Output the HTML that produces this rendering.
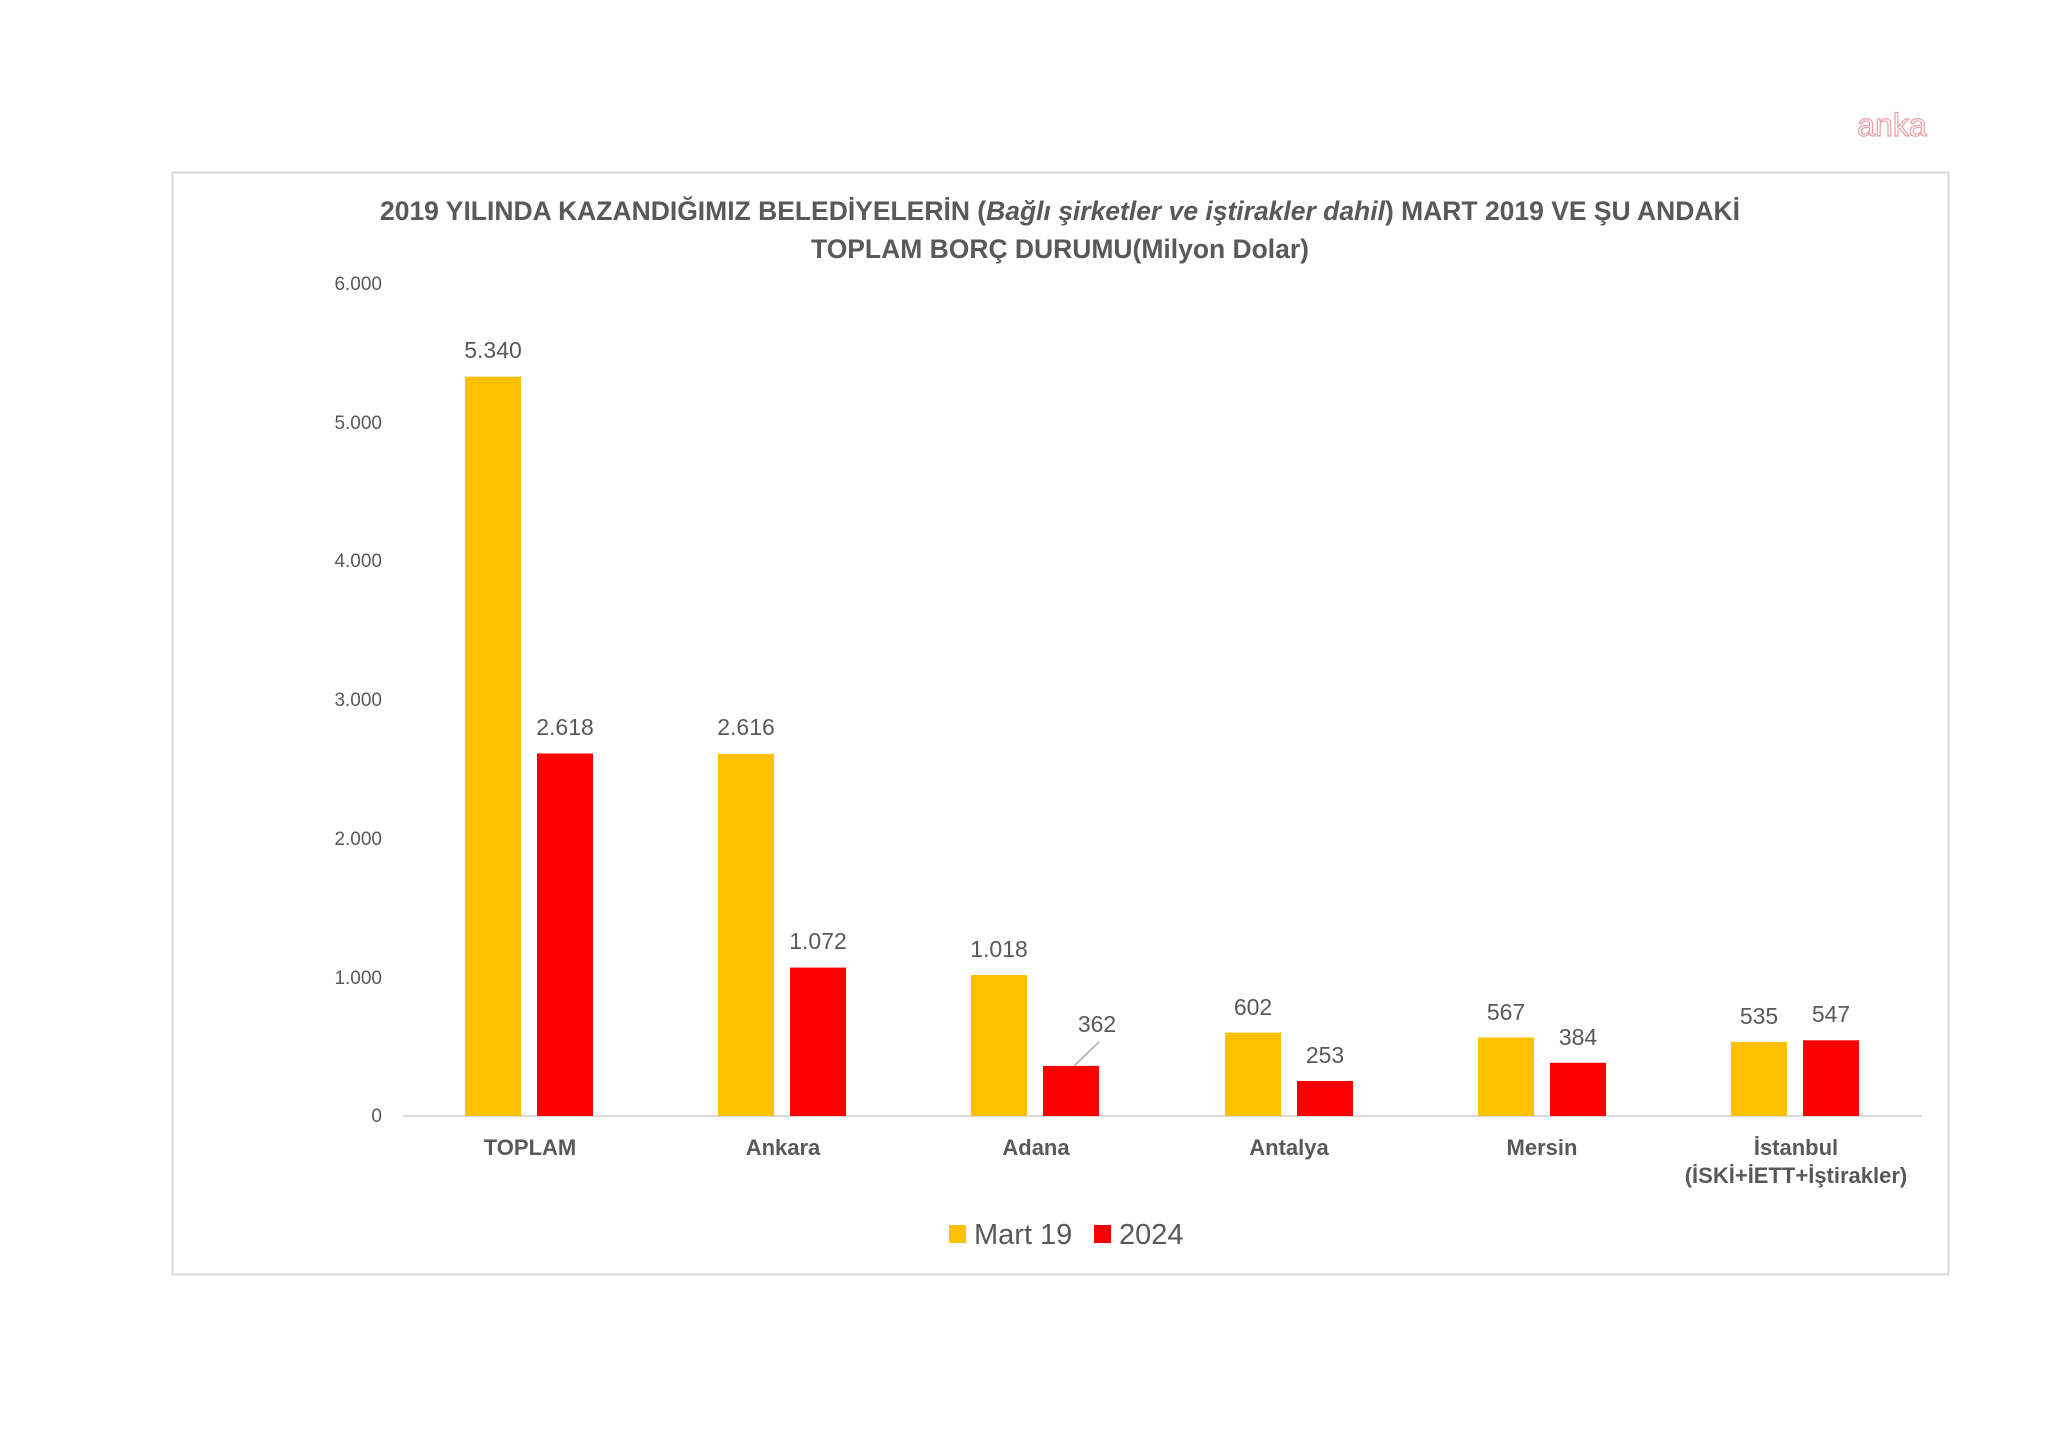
<!DOCTYPE html>
<html><head><meta charset="utf-8"><style>
html,body{margin:0;padding:0;background:#fff;}
svg{display:block;}
text{font-family:"Liberation Sans Narrow","Liberation Sans",sans-serif;fill:#595959;}
</style></head><body>
<svg width="2048" height="1448" viewBox="0 0 2048 1448" xmlns="http://www.w3.org/2000/svg">
<rect x="0" y="0" width="2048" height="1448" fill="#fff"/>
<text x="1892" y="136" text-anchor="middle" font-size="32" style="fill:none;stroke:#e8a0aa;stroke-width:1.2;font-family:'Liberation Sans',sans-serif">anka</text>
<rect x="172.5" y="172.5" width="1776" height="1102" fill="#fff" stroke="#d9d9d9" stroke-width="2"/>
<text x="1060" y="220" text-anchor="middle" font-size="27" font-weight="bold" textLength="1360" lengthAdjust="spacingAndGlyphs">2019  YILINDA KAZANDIĞIMIZ BELEDİYELERİN (<tspan font-style="italic">Bağlı şirketler ve iştirakler dahil</tspan>) MART 2019  VE ŞU ANDAKİ</text>
<text x="1060" y="258" text-anchor="middle" font-size="27" font-weight="bold" textLength="498" lengthAdjust="spacingAndGlyphs">TOPLAM BORÇ DURUMU(Milyon Dolar)</text>
<g font-size="19" text-anchor="end">
<text x="382" y="290">6.000</text>
<text x="382" y="429">5.000</text>
<text x="382" y="567">4.000</text>
<text x="382" y="706">3.000</text>
<text x="382" y="845">2.000</text>
<text x="382" y="984">1.000</text>
<text x="382" y="1122">0</text>
</g>
<line x1="403" y1="1116" x2="1922" y2="1116" stroke="#d9d9d9" stroke-width="2"/>
<g>
<rect x="465" y="376.7" width="56" height="739.3" fill="#FFC000"/>
<rect x="537" y="753.5" width="56" height="362.5" fill="#FF0000"/>
<rect x="718" y="753.8" width="56" height="362.2" fill="#FFC000"/>
<rect x="790" y="967.6" width="56" height="148.4" fill="#FF0000"/>
<rect x="971" y="975" width="56" height="141" fill="#FFC000"/>
<rect x="1043" y="1065.9" width="56" height="50.1" fill="#FF0000"/>
<rect x="1225" y="1032.6" width="56" height="83.4" fill="#FFC000"/>
<rect x="1297" y="1081" width="56" height="35" fill="#FF0000"/>
<rect x="1478" y="1037.5" width="56" height="78.5" fill="#FFC000"/>
<rect x="1550" y="1062.8" width="56" height="53.2" fill="#FF0000"/>
<rect x="1731" y="1041.9" width="56" height="74.1" fill="#FFC000"/>
<rect x="1803" y="1040.3" width="56" height="75.7" fill="#FF0000"/>
</g>
<g font-size="23" text-anchor="middle" style="fill:#404040">
<text x="493" y="358">5.340</text>
<text x="565" y="735">2.618</text>
<text x="746" y="735">2.616</text>
<text x="818" y="949">1.072</text>
<text x="999" y="957">1.018</text>
<text x="1097" y="1032">362</text>
<text x="1253" y="1015">602</text>
<text x="1325" y="1063">253</text>
<text x="1506" y="1020">567</text>
<text x="1578" y="1045">384</text>
<text x="1759" y="1024">535</text>
<text x="1831" y="1022">547</text>
</g>
<line x1="1074" y1="1066" x2="1099" y2="1042" stroke="#a6a6a6" stroke-width="1.5"/>
<g font-size="22" font-weight="bold" text-anchor="middle">
<text x="530" y="1155">TOPLAM</text>
<text x="783" y="1155">Ankara</text>
<text x="1036" y="1155">Adana</text>
<text x="1289" y="1155">Antalya</text>
<text x="1542" y="1155">Mersin</text>
<text x="1796" y="1155">İstanbul</text>
<text x="1796" y="1183">(İSKİ+İETT+İştirakler)</text>
</g>
<rect x="949" y="1225" width="17" height="18" fill="#FFC000"/>
<text x="974" y="1244" font-size="29">Mart 19</text>
<rect x="1094" y="1225" width="17" height="18" fill="#FF0000"/>
<text x="1119" y="1244" font-size="29">2024</text>
</svg>
</body></html>
